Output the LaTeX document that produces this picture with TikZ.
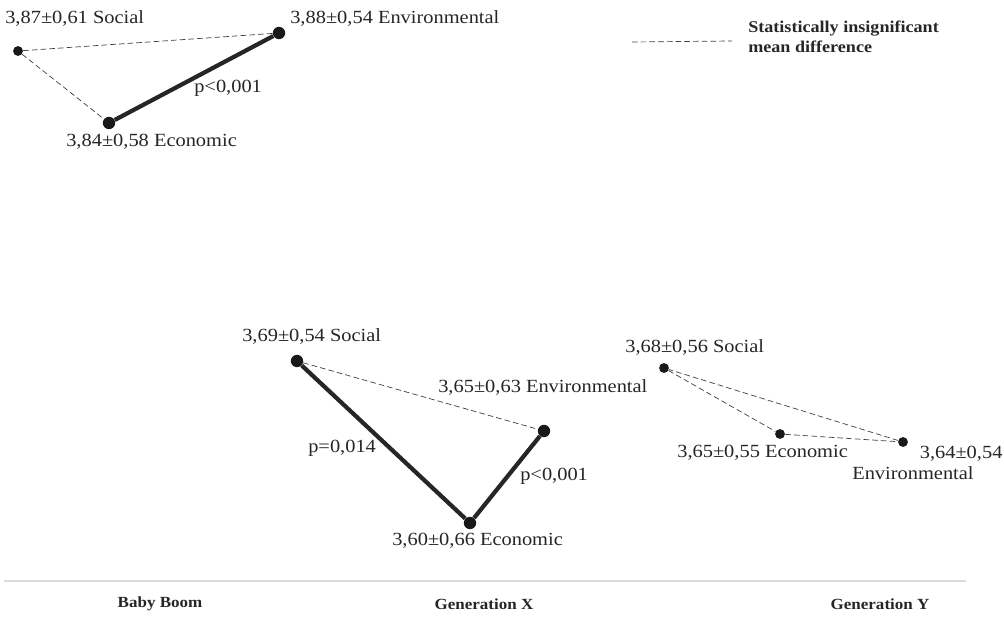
\documentclass[tikz,border=0pt]{standalone}
\usepackage{fontspec}
\setmainfont[FakeStretch=1.1]{Liberation Serif}
\usepackage{tikz}

\tikzset{
  bigdot/.style={circle, fill=black!90, inner sep=0pt, minimum size=8.8pt},
  smalldot/.style={circle, fill=black!90, inner sep=0pt, minimum size=7pt},
  signif/.style={line width=3pt, black!85},
  insignif/.style={dash pattern=on 4pt off 2.2pt, line width=0.5pt, black!75},
  lbl/.style={anchor=west, inner sep=0pt, font=\fontsize{13.2}{15}\selectfont, text=black!85},
  gen/.style={inner sep=0pt, font=\fontsize{11}{13}\selectfont\bfseries, text=black!85}
}

\begin{document}
\begin{tikzpicture}[x=0.025cm, y=-0.025cm]
      \useasboundingbox (0,0) rectangle (1004,622);
      % Baby Boom
      \node[smalldot] (bbS) at (18,51) {};
      \node[bigdot] (bbEn) at (279,33) {};
      \node[bigdot] (bbEc) at (109,123) {};
      \node[lbl] (bbSl) at (5,18) {3,87±0,61 Social};
      \node[lbl] (bbEnl) at (290,18) {3,88±0,54 Environmental};
      \node[lbl] (bbEcl) at (66,142) {3,84±0,58 Economic};
      \node[lbl] (bbp) at (194,88) {p<0,001};
      \draw[insignif] (bbS) -- (bbEn) (bbS) -- (bbEc);
      \draw[signif] (bbEc) -- (bbEn);
      % legend
      \coordinate (legA) at (632,42);
      \coordinate (legB) at (732,41);
      \draw[insignif] (legA) -- (legB);
      \node[gen, anchor=west, align=left, font=\fontsize{11.7}{14}\selectfont\bfseries] (legt) at (748,37) {Statistically insignificant\\mean difference};
      % Generation X
      \node[bigdot] (gxS) at (297,361) {};
      \node[bigdot] (gxEn) at (544,431) {};
      \node[bigdot] (gxEc) at (470,523) {};
      \node[lbl] (gxSl) at (242,336) {3,69±0,54 Social};
      \node[lbl] (gxEnl) at (438,387) {3,65±0,63 Environmental};
      \node[lbl] (gxEcl) at (392,541) {3,60±0,66 Economic};
      \node[lbl] (gxp1) at (308,448) {p=0,014};
      \node[lbl] (gxp2) at (520,476) {p<0,001};
      \draw[insignif] (gxS) -- (gxEn);
      \draw[signif] (gxS) -- (gxEc) -- (gxEn);
      % Generation Y
      \node[smalldot] (gyS) at (664,368) {};
      \node[smalldot] (gyEc) at (780,434) {};
      \node[smalldot] (gyEn) at (903,442) {};
      \node[lbl] (gySl) at (625,347) {3,68±0,56 Social};
      \node[lbl] (gyEcl) at (677,453) {3,65±0,55 Economic};
      \node[lbl, align=left] (gyEnl) at (852,463) {\hspace*{48pt}3,64±0,54\\Environmental};
      \draw[insignif] (gyS) -- (gyEc) -- (gyEn) -- (gyS);
      % bottom axis
      \coordinate (axL) at (4,581);
      \coordinate (axR) at (966,581);
      \draw[line width=1.4pt, black!14] (axL) -- (axR);
      \node[gen] (bb) at (160,604) {Baby Boom};
      \node[gen] (gx) at (484,604) {Generation X};
      \node[gen] (gy) at (880,604) {Generation Y};
    \end{tikzpicture}
\end{document}
